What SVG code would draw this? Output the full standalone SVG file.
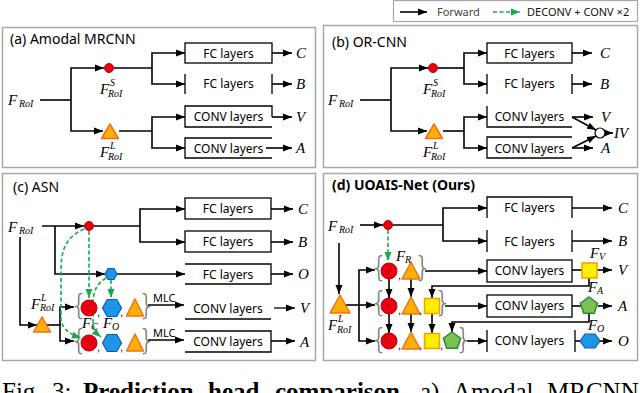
<svg xmlns="http://www.w3.org/2000/svg" width="640" height="393" viewBox="0 0 640 393">
<defs>
<marker id="ah" markerWidth="9" markerHeight="8" refX="9" refY="4" orient="auto" markerUnits="userSpaceOnUse"><path d="M0,0.5 L9,4 L0,7.5 z" fill="#000"/></marker>
<marker id="ag" markerWidth="9" markerHeight="8" refX="9" refY="4" orient="auto" markerUnits="userSpaceOnUse"><path d="M0,0.5 L9,4 L0,7.5 z" fill="#1ca84c"/></marker>
</defs>
<style>
.pan{fill:#fff;stroke:#a8a8a8;stroke-width:1.5}
.ln{fill:none;stroke:#000;stroke-width:1.6}
.ar{fill:none;stroke:#000;stroke-width:1.6;marker-end:url(#ah)}
.gd{fill:none;stroke:#1ca84c;stroke-width:1.6;stroke-dasharray:4 2.5;marker-end:url(#ag)}
.bx{fill:none;stroke:#000;stroke-width:1.3}
.t{font-family:"Noto Sans","DejaVu Sans",sans-serif;font-size:12px;fill:#000;text-anchor:middle}
.ti{font-family:"Noto Sans","DejaVu Sans",sans-serif;font-size:14px;fill:#000}
.lg{font-family:"Noto Sans","DejaVu Sans",sans-serif;font-size:11px}
.m{font-family:"Liberation Serif","DejaVu Serif",serif;font-style:italic;font-size:15px;fill:#000}
.s{font-family:"Liberation Serif","DejaVu Serif",serif;font-style:italic;font-size:10px;fill:#000}
.o{font-family:"Liberation Serif","DejaVu Serif",serif;font-style:italic;font-size:15px;fill:#000}
.red{fill:#e60012;stroke:#c40000;stroke-width:1}
.tri{fill:#ffb000;stroke:#f07020;stroke-width:1.5;stroke-linejoin:round}
.hex{fill:#1e96e6;stroke:#0b5cb5;stroke-width:1.2}
.sq{fill:#ffee00;stroke:#f0a000;stroke-width:1.5}
.pen{fill:#7cc250;stroke:#2a8a3a;stroke-width:1.5}
.br{font-family:"DejaVu Sans","Liberation Sans",sans-serif;font-size:28px;font-weight:200;fill:#777;text-anchor:middle}
.cm{font-family:"Liberation Sans",sans-serif;font-size:11px;fill:#000}
</style>

<g id="panels">
<rect class="pan" x="2.5" y="27.5" width="313" height="140"/>
<rect class="pan" x="323.5" y="25.5" width="314" height="142"/>
<rect class="pan" x="2.5" y="173.5" width="313" height="187"/>
<rect class="pan" x="323.5" y="173.5" width="314" height="187"/>
</g>

<g id="legend">
<rect x="393.5" y="0.5" width="244" height="21" fill="#fff" stroke="#a8a8a8" stroke-width="1.2"/>
<path class="ar" d="M400,12 H427"/>
<text class="lg" x="437" y="16" fill="#444">Forward</text>
<path class="gd" d="M493,12 H520"/>
<text class="lg" x="527" y="16" fill="#111">DECONV + CONV ×2</text>
</g>

<g id="connectors">
<!-- panel a -->
<path class="ln" d="M40,100 H71"/>
<path class="ar" d="M71,100 V68 H104"/>
<path class="ar" d="M71,100 V131 H103"/>
<path class="ln" d="M114,68 H152"/>
<path class="ar" d="M152,68 V53 H185"/>
<path class="ar" d="M152,68 V84 H185"/>
<path class="ln" d="M119,131 H152"/>
<path class="ar" d="M152,131 V117 H185"/>
<path class="ar" d="M152,131 V148 H185"/>
<path class="ar" d="M272,53 H292"/>
<path class="ar" d="M272,84 H292"/>
<path class="ar" d="M272,117 H292"/>
<path class="ar" d="M266,148 H292"/>
<!-- panel b -->
<path class="ln" d="M360,100 H391"/>
<path class="ar" d="M391,100 V68 H428"/>
<path class="ar" d="M391,100 V131 H427"/>
<path class="ln" d="M438,68 H464"/>
<path class="ar" d="M464,68 V53 H487"/>
<path class="ar" d="M464,68 V84 H487"/>
<path class="ln" d="M443,131 H464"/>
<path class="ar" d="M464,131 V117 H487"/>
<path class="ar" d="M464,131 V148 H487"/>
<path class="ar" d="M572,53 H592"/>
<path class="ar" d="M572,84 H592"/>
<path class="ar" d="M572,117 H593"/>
<path class="ar" d="M572,148 H593"/>
<path class="ar" d="M572,117 L596,130"/>
<path class="ar" d="M572,148 L596,136"/>
<path class="ar" d="M605,133 H613"/>
<!-- panel c -->
<path class="ar" d="M42,226 H84"/>
<path class="ar" d="M55,226 V274 H105"/>
<path class="ar" d="M20,237 V325 H37"/>
<path class="ln" d="M46,325 H60"/>
<path class="ar" d="M60,325 V307 H74"/>
<path class="ar" d="M60,325 V341 H74"/>
<path class="ln" d="M94,226 H140"/>
<path class="ar" d="M140,226 V209 H185"/>
<path class="ar" d="M140,226 V242 H185"/>
<path class="ar" d="M271,209 H293"/>
<path class="ar" d="M271,242 H293"/>
<path class="ar" d="M117,274 H185"/>
<path class="ar" d="M271,274 H293"/>
<path class="ar" d="M148,305 H184"/>
<path class="ar" d="M274,308 H295" style="stroke:#333"/>
<path class="ar" d="M148,340 H184"/>
<path class="ar" d="M271,341 H295"/>
<path class="gd" d="M89,231 V298"/>
<path class="gd" d="M84,229 C64,238 61,252 61,272 L61,318 C61,328 69,334 81,338"/>
<path class="gd" d="M111,280 V298"/>
<path class="gd" d="M106,278 C96,284 93,292 93,305 L93,322 C93,329 96,333 101,337"/>
<!-- panel d -->
<path class="ar" d="M360,225 H383"/>
<path class="ln" d="M393,225 H443"/>
<path class="ar" d="M443,225 V208 H487"/>
<path class="ar" d="M443,225 V241 H487"/>
<path class="ar" d="M572,208 H612"/>
<path class="ar" d="M572,241 H612"/>
<path class="gd" d="M388,230 V261"/>
<path class="ar" d="M339,243 V294"/>
<path class="ln" d="M345,305 H359"/>
<path class="ar" d="M359,305 V270 H375"/>
<path class="ar" d="M359,305 H375"/>
<path class="ar" d="M359,305 V341 H375"/>
<path class="ar" d="M425,271 H487"/>
<path class="ar" d="M445,306 H487"/>
<path class="ar" d="M467,341 H487"/>
<path class="ln" d="M572,270 H582"/>
<path class="ar" d="M597,270 H612"/>
<path class="ln" d="M572,306 H581"/>
<path class="ar" d="M598,306 H612"/>
<path class="ln" d="M575,341 H580"/>
<path class="ar" d="M600,341 H612"/>
<path class="ar" d="M589,278 V286 H432 V298"/>
<path class="ar" d="M589,313 V322 H452 V332"/>
<path class="ar" d="M389,279 V298"/>
<path class="ar" d="M411,279 V297"/>
<path class="ar" d="M389,314 V333"/>
<path class="ar" d="M411,314 V332"/>
<path class="ar" d="M432,314 V333"/>
</g>

<!-- ===== panel a ===== -->
<g id="a-title"><text class="ti" x="10" y="44">(a) Amodal MRCNN</text></g>
<g id="a-froi"><text class="m" x="8" y="105">F</text><text class="s" x="19" y="107">RoI</text></g>
<g id="a-fs"><circle class="red" cx="109" cy="68" r="4.5"/><text class="m" x="100" y="94">F</text><text class="s" x="110" y="86">S</text><text class="s" x="108" y="97">RoI</text></g>
<g id="a-fl"><polygon class="tri" points="110,124 118.5,138.5 101.5,138.5"/><text class="m" x="100" y="157">F</text><text class="s" x="110" y="149">L</text><text class="s" x="108" y="160">RoI</text></g>
<g id="a-fc1"><rect class="bx" x="185" y="43" width="87" height="20"/><text class="t" x="228.5" y="57.5">FC layers</text></g>
<g id="a-fc2"><path class="bx" d="M185,74 V94 M272,74 V94"/><text class="t" x="228.5" y="88">FC layers</text></g>
<g id="a-conv1"><path class="bx" d="M272,117 V106 H185 V127 H272"/><text class="t" x="228.5" y="121">CONV layers</text></g>
<g id="a-conv2"><path class="bx" d="M272,138 H185 V158 H272"/><text class="t" x="228.5" y="153">CONV layers</text></g>
<g id="a-out"><text class="o" x="296" y="58">C</text><text class="o" x="296" y="89">B</text><text class="o" x="296" y="122">V</text><text class="o" x="296" y="153">A</text></g>

<!-- ===== panel b ===== -->
<g id="b-title"><text class="ti" x="332" y="47">(b) OR-CNN</text></g>
<g id="b-froi"><text class="m" x="328" y="105">F</text><text class="s" x="339" y="107">RoI</text></g>
<g id="b-fs"><circle class="red" cx="433" cy="68" r="4.5"/><text class="m" x="423" y="94">F</text><text class="s" x="433" y="86">S</text><text class="s" x="431" y="97">RoI</text></g>
<g id="b-fl"><polygon class="tri" points="434,124 442.5,138.5 425.5,138.5"/><text class="m" x="423" y="157">F</text><text class="s" x="433" y="149">L</text><text class="s" x="431" y="160">RoI</text></g>
<g id="b-fc1"><rect class="bx" x="487" y="43" width="85" height="20"/><text class="t" x="529.5" y="57.5">FC layers</text></g>
<g id="b-fc2"><path class="bx" d="M487,74 V94 M572,74 V94"/><text class="t" x="529.5" y="88">FC layers</text></g>
<g id="b-conv1"><path class="bx" d="M487,106 V127 H572"/><text class="t" x="529.5" y="121">CONV layers</text></g>
<g id="b-conv2"><path class="bx" d="M572,137 H487 V158 H572"/><text class="t" x="529.5" y="153">CONV layers</text></g>
<g id="b-iv"><circle cx="600" cy="133" r="5" fill="#fff" stroke="#000" stroke-width="1.2"/></g>
<g id="b-out"><text class="o" x="600" y="58">C</text><text class="o" x="600" y="89">B</text><text class="o" x="601" y="122">V</text><text class="o" x="614" y="138">IV</text><text class="o" x="601" y="153">A</text></g>

<!-- ===== panel c ===== -->
<g id="c-title"><text class="ti" x="13" y="192">(c) ASN</text></g>
<g id="c-froi"><text class="m" x="8" y="232">F</text><text class="s" x="19" y="234">RoI</text></g>
<g id="c-fs"><circle class="red" cx="89" cy="226" r="4.5"/></g>
<g id="c-fo"><polygon class="hex" points="105,274 108,268.5 114,268.5 117,274 114,279.5 108,279.5"/></g>
<g id="c-fl"><polygon class="tri" points="42,317 50.5,332 33.5,332"/><text class="m" x="31" y="309">F</text><text class="s" x="41" y="301">L</text><text class="s" x="40" y="311">RoI</text></g>
<g id="c-fc1"><rect class="bx" x="185" y="198" width="86" height="21"/><text class="t" x="228" y="213">FC layers</text></g>
<g id="c-fc2"><rect class="bx" x="185" y="231" width="86" height="21"/><text class="t" x="228" y="246">FC layers</text></g>
<g id="c-fc3"><path class="bx" d="M185,264 H271 V284 H185"/><text class="t" x="228" y="279">FC layers</text></g>
<g id="c-conv1"><path class="bx" d="M185,319 H271"/><text class="t" x="228" y="313">CONV layers</text></g>
<g id="c-conv2"><path class="bx" d="M185,331 H271 V352 H185"/><text class="t" x="228" y="346">CONV layers</text></g>
<g id="c-row1">
<text class="br" x="79" y="315">{</text>
<circle class="red" cx="89" cy="308" r="8"/>
<text class="cm" x="97" y="316">,</text>
<polygon class="hex" points="102.5,308 107.25,299.5 116.75,299.5 121.5,308 116.75,316.5 107.25,316.5"/>
<text class="cm" x="120" y="316">,</text>
<polygon class="tri" points="135,299 143.5,316 126.5,316"/>
<text class="br" x="147" y="315">}</text>
<text class="lg" x="153" y="302">MLC</text>
</g>
<g id="c-row2">
<text class="br" x="79" y="350">{</text>
<circle class="red" cx="89" cy="343" r="8"/>
<text class="cm" x="97" y="351">,</text>
<polygon class="hex" points="102.5,343 107.25,334.5 116.75,334.5 121.5,343 116.75,351.5 107.25,351.5"/>
<text class="cm" x="120" y="351">,</text>
<polygon class="tri" points="135,334 143.5,351 126.5,351"/>
<text class="br" x="147" y="350">}</text>
<text class="lg" x="153" y="337">MLC</text>
</g>
<g id="c-labels"><text class="m" x="82" y="328">F</text><text class="s" x="91" y="330">C</text><text class="m" x="103" y="328">F</text><text class="s" x="112" y="330">O</text></g>
<g id="c-out"><text class="o" x="298" y="214">C</text><text class="o" x="298" y="247">B</text><text class="o" x="298" y="279">O</text><text class="o" x="300" y="313">V</text><text class="o" x="300" y="347">A</text></g>

<!-- ===== panel d ===== -->
<g id="d-title"><text class="ti" x="332" y="190" font-weight="bold">(d) UOAIS-Net (Ours)</text></g>
<g id="d-froi"><text class="m" x="328" y="231">F</text><text class="s" x="339" y="233">RoI</text></g>
<g id="d-fs"><circle class="red" cx="388" cy="225" r="4.5"/></g>
<g id="d-fl"><polygon class="tri" points="340,295 350,313 330,313"/><text class="m" x="328" y="330">F</text><text class="s" x="338" y="322">L</text><text class="s" x="337" y="333">RoI</text></g>
<g id="d-fc1"><path class="bx" d="M487,218 V197 H572 V218"/><text class="t" x="529.5" y="212">FC layers</text></g>
<g id="d-fc2"><path class="bx" d="M487,230 V252 M572,230 V252"/><text class="t" x="529.5" y="246">FC layers</text></g>
<g id="d-conv1"><rect class="bx" x="487" y="260" width="85" height="22"/><text class="t" x="529.5" y="275">CONV layers</text></g>
<g id="d-conv2"><rect class="bx" x="487" y="295" width="85" height="22"/><text class="t" x="529.5" y="310">CONV layers</text></g>
<g id="d-conv3"><path class="bx" d="M487,330 V352 M575,330 V352"/><text class="t" x="529.5" y="345">CONV layers</text></g>
<g id="d-fv"><rect class="sq" x="582" y="263" width="15" height="15"/><text class="m" x="590" y="258">F</text><text class="s" x="599" y="260">V</text></g>
<g id="d-fa"><polygon class="pen" points="589,297 597.6,303.2 594.3,313.3 583.7,313.3 580.4,303.2"/><text class="m" x="588" y="292">F</text><text class="s" x="597" y="294">A</text></g>
<g id="d-fo"><polygon class="hex" points="580,341 585,334 595,334 600,341 595,348 585,348"/><text class="m" x="588" y="330">F</text><text class="s" x="597" y="332">O</text></g>
<g id="d-row1">
<text class="br" x="379" y="277">{</text>
<circle class="red" cx="389" cy="271" r="8"/>
<text class="cm" x="398" y="279">,</text>
<polygon class="tri" points="411,262 420,279 402,279"/>
<text class="br" x="423" y="277">}</text>
<text class="m" x="396" y="261">F</text><text class="s" x="405" y="263">R</text>
</g>
<g id="d-row2">
<text class="br" x="379" y="312">{</text>
<circle class="red" cx="389" cy="306" r="8"/>
<text class="cm" x="398" y="314">,</text>
<polygon class="tri" points="411,297 420,314 402,314"/>
<text class="cm" x="419" y="314">,</text>
<rect class="sq" x="424.5" y="298.5" width="15" height="15"/>
<text class="br" x="443" y="312">}</text>
</g>
<g id="d-row3">
<text class="br" x="379" y="349">{</text>
<circle class="red" cx="389" cy="341" r="8"/>
<text class="cm" x="398" y="349">,</text>
<polygon class="tri" points="411,332 420,349 402,349"/>
<text class="cm" x="419" y="349">,</text>
<rect class="sq" x="424.5" y="333.5" width="15" height="15"/>
<text class="cm" x="440" y="349">,</text>
<polygon class="pen" points="452,332 460.6,338.2 457.3,348.3 446.7,348.3 443.4,338.2"/>
<text class="br" x="464" y="349">}</text>
</g>
<g id="d-out"><text class="o" x="618" y="213">C</text><text class="o" x="618" y="246">B</text><text class="o" x="618" y="275">V</text><text class="o" x="618" y="311">A</text><text class="o" x="618" y="346">O</text></g>

<g id="caption">
<text y="399.5" font-family="Liberation Serif, serif" font-size="25" fill="#000"><tspan x="2">Fig.</tspan><tspan x="52">3:</tspan><tspan x="83" font-weight="bold">Prediction</tspan><tspan x="208" font-weight="bold">head</tspan><tspan x="275" font-weight="bold">comparison.</tspan><tspan x="420">a)</tspan><tspan x="453">Amodal</tspan><tspan x="547">MRCNN</tspan></text>
</g>
</svg>
